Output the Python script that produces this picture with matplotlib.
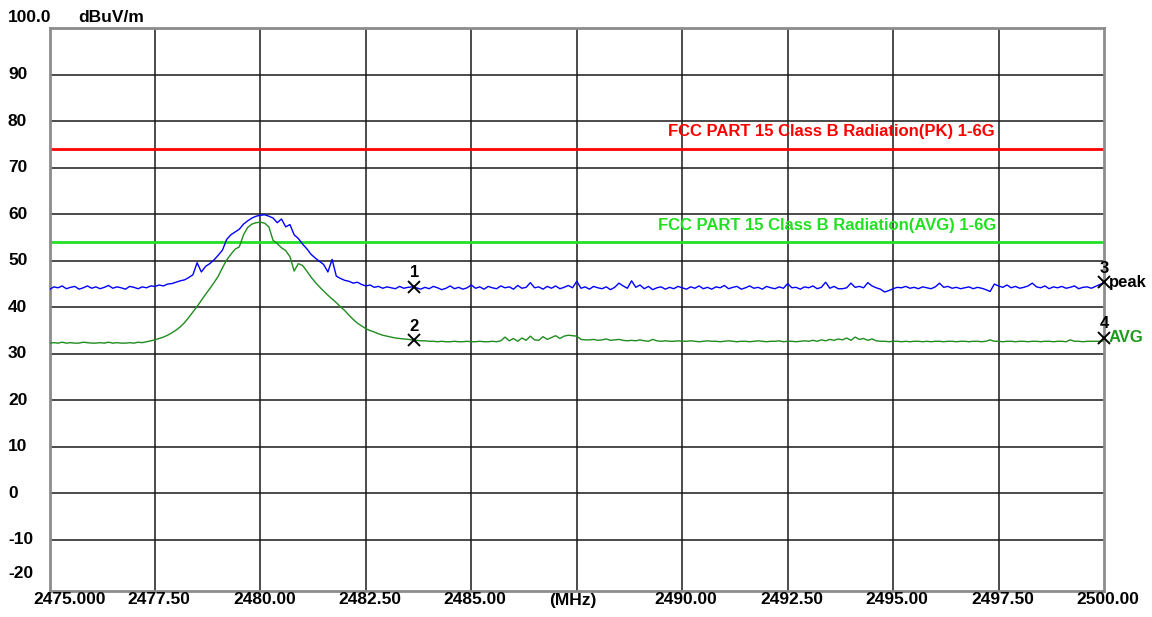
import numpy as np
import matplotlib.pyplot as plt
from matplotlib.transforms import blended_transform_factory

# --- sweep data (dBuV/m), one reading every 0.1 MHz from 2475.0 MHz ---
F_START = 2475.0
F_STEP = 0.1

PEAK_TRACE = [
    43.8, 44.4, 44.2, 44.6, 44.0, 44.3, 44.5, 43.9, 44.2, 44.6,
    44.1, 44.4, 44.0, 44.3, 44.7, 44.1, 44.4, 44.2, 43.9, 44.5,
    44.3, 44.0, 44.4, 44.2, 44.6,
    44.5, 44.8, 44.6, 45.0, 45.1, 45.4,
    45.7, 45.9, 46.4, 47.0, 49.6, 47.6, 48.8, 49.4, 50.2, 51.2,
    52.3, 54.6, 55.6, 56.2, 56.8, 57.9, 58.6, 59.2, 59.6, 59.8,
    59.9, 59.6, 59.2, 58.2, 59.0, 57.3, 57.8, 55.6, 54.8, 53.6,
    52.6, 51.4, 50.6, 49.9, 49.2, 47.6, 50.3, 46.7, 46.2, 45.8,
    45.6, 45.2, 45.4, 44.9, 44.6, 44.8, 44.3, 44.5, 44.1, 44.4,
    44.2, 44.0, 44.5, 44.1, 44.3, 44.4, 44.2,
    43.9, 44.3, 44.0, 44.5, 44.2, 43.8, 44.1, 44.6, 44.0, 44.3,
    43.9, 44.2, 44.8, 44.1, 44.4, 43.9, 44.5, 44.2, 44.0, 44.6,
    44.2, 44.4, 43.9, 44.7, 44.1, 44.3, 45.3, 44.2, 44.4, 43.9,
    44.5, 44.1, 44.6, 44.0, 44.3, 44.7, 44.2, 45.6, 44.1, 44.4,
    43.9, 44.5, 44.2, 44.0, 44.4, 43.8, 44.3, 45.2, 44.6, 44.1,
    45.7, 44.3, 44.8, 44.0, 44.5, 43.8, 44.2, 44.4, 43.9, 44.3,
    44.0, 44.5, 44.2, 43.9, 44.4, 44.1, 44.6, 44.0, 44.3, 43.9,
    44.4, 44.2, 44.7, 44.0, 44.3, 44.5, 43.9, 44.2, 44.6, 44.1,
    44.3, 43.9, 44.5, 44.2, 44.0, 44.4, 44.1, 45.1, 44.2, 44.3,
    43.9, 44.4, 44.2, 44.6, 44.0, 44.3, 45.4, 44.1, 44.5, 44.0,
    44.0, 44.2, 45.2, 44.3, 44.5, 44.2, 45.3, 44.6, 44.2, 43.9,
    43.3, 43.6, 44.0, 44.3, 44.2, 44.5, 44.1, 44.3, 44.0, 44.4,
    44.2, 44.0, 44.4, 45.2, 44.3, 44.5, 44.1, 44.3, 44.0, 44.2,
    44.4, 44.0, 44.3, 44.1, 43.8, 43.4, 45.0, 44.6, 44.3, 44.8,
    44.2, 44.5, 44.1, 44.3, 44.6, 45.2, 44.4, 44.2, 44.6, 44.0,
    44.4, 44.2, 44.5, 44.1, 44.3, 44.6, 44.0, 44.3, 44.4, 44.1,
    44.5, 44.9, 45.3,
]

AVG_TRACE = [
    32.3, 32.4, 32.3, 32.5, 32.3, 32.4, 32.3, 32.3, 32.5, 32.4,
    32.3, 32.3, 32.4, 32.3, 32.5, 32.3, 32.4, 32.3, 32.3, 32.4,
    32.3, 32.5, 32.4, 32.6,
    32.8, 33.0, 33.3, 33.6, 34.0, 34.5, 35.1, 35.8, 36.7, 37.8,
    39.0, 40.2, 41.5, 42.8, 44.0, 45.3, 46.7, 48.5, 50.2, 51.4,
    52.5, 53.0, 55.6, 57.2, 57.9, 58.2, 58.3,
    58.1, 57.3, 54.4, 53.7, 52.8, 52.2, 50.9, 47.8, 49.4, 49.0,
    47.8, 46.5, 45.4, 44.4, 43.5, 42.6, 41.8, 41.0, 40.1, 39.3,
    38.3, 37.4, 36.6, 36.0, 35.4, 35.0, 34.7, 34.3, 34.0, 33.8,
    33.6, 33.4, 33.3, 33.2, 33.1, 33.0, 32.9,
    32.8, 32.8, 32.7, 32.7, 32.6, 32.7, 32.6, 32.6, 32.7, 32.6,
    32.6, 32.7, 32.6, 32.6, 32.7, 32.6, 32.6, 32.7, 32.6, 32.8,
    33.6, 32.8, 33.3, 32.7, 33.4, 32.9, 33.8, 33.0, 32.9, 33.7,
    33.1, 33.5, 33.9, 33.3, 33.8, 34.0, 33.9, 33.8, 33.1, 33.0,
    33.0, 33.1, 32.9, 33.0, 33.2, 32.9, 33.0, 33.1, 32.9, 32.8,
    32.9, 32.8, 33.0, 32.8, 32.7, 33.1, 32.8, 32.7, 32.8, 32.7,
    32.7, 32.8, 32.7, 32.7, 32.8, 32.7, 32.6, 32.7, 32.8, 32.7,
    32.7, 32.6, 32.7, 32.8, 32.7, 32.6, 32.7, 32.7, 32.6, 32.7,
    32.8, 32.7, 32.6, 32.7, 32.7, 32.8, 32.6, 32.7, 32.7, 32.6,
    32.7, 32.8, 32.7, 32.9, 32.7, 33.0, 32.8, 33.1, 32.9, 33.2,
    33.0, 33.4, 32.9, 33.6, 33.1, 33.3, 32.9, 33.2, 32.8, 32.7,
    32.7, 32.6, 32.7, 32.7, 32.6, 32.7, 32.6, 32.7, 32.7, 32.6,
    32.7, 32.6, 32.7, 32.7, 32.6, 32.7, 32.7, 32.6, 32.7, 32.7,
    32.6, 32.7, 32.7, 32.6, 32.7, 33.0, 32.7, 32.7, 32.6, 32.7,
    32.7, 32.6, 32.7, 32.7, 32.6, 32.7, 32.7, 32.6, 32.7, 32.7,
    32.6, 32.7, 32.7, 32.6, 33.0, 32.7, 32.7, 32.6, 32.7, 32.7,
    32.7, 32.7, 32.8,
]

LIMIT_PK = 74.0
LIMIT_AVG = 54.0
LIMIT_PK_TEXT = 'FCC PART 15 Class B Radiation(PK) 1-6G'
LIMIT_AVG_TEXT = 'FCC PART 15 Class B Radiation(AVG) 1-6G'

MARKER_ID = ['1', '2', '3', '4']
MARKER_FREQ = [2483.65, 2483.65, 2500.0, 2500.0]
MARKER_LEVEL = [44.4, 32.9, 45.4, 33.5]

X_TICKS = [2475.0, 2477.5, 2480.0, 2482.5, 2485.0, 2487.5,
           2490.0, 2492.5, 2495.0, 2497.5, 2500.0]
X_LABELS = ['2475.000', '2477.50', '2480.00', '2482.50', '2485.00', '(MHz)',
            '2490.00', '2492.50', '2495.00', '2497.50', '2500.00']
Y_TICKS = [90, 80, 70, 60, 50, 40, 30, 20, 10, 0, -10]

FONT = 'Liberation Sans'
W, H = 1152, 617

fig = plt.figure(figsize=(W / 100, H / 100), dpi=100)
ax = fig.add_axes([49.5 / W, 1 - 591 / H, (1104 - 49.5) / W, (591 - 28.3) / H])
ax.set_xlim(2475, 2500)
ax.set_ylim(-21, 100)

# grid
ax.set_xticks(X_TICKS[1:-1])
ax.set_yticks(Y_TICKS)
ax.tick_params(length=0, labelbottom=False, labelleft=False)
ax.grid(True, color='#1a1a1a', lw=1.1)
ax.set_axisbelow(True)
for sp in ax.spines.values():
    sp.set_color('#8c8c8c')
    sp.set_linewidth(2.0)

freqs = F_START + F_STEP * np.arange(len(PEAK_TRACE))

# limit lines
ax.axhline(LIMIT_PK, color='#ff0000', lw=2.0, zorder=2)
ax.axhline(LIMIT_AVG, color='#22e022', lw=2.0, zorder=2)
ax.text(2497.4, 77.9, LIMIT_PK_TEXT, color='#ff0000', ha='right', va='center',
        fontsize=12, fontweight='bold', family=FONT)
ax.text(2497.45, 57.7, LIMIT_AVG_TEXT, color='#22e022', ha='right', va='center',
        fontsize=12, fontweight='bold', family=FONT)

# traces
ax.plot(freqs, PEAK_TRACE, color='#0000ff', lw=1.0, zorder=3)
ax.plot(np.arange(len(AVG_TRACE)) * F_STEP + F_START, AVG_TRACE,
        color='#1f8c1f', lw=1.0, zorder=3)

# markers
ax.plot(MARKER_FREQ, MARKER_LEVEL, ls='none', marker='x', ms=8, mew=1.4,
        color='black', zorder=5, clip_on=False)
for mid, fx, lv in zip(MARKER_ID, MARKER_FREQ, MARKER_LEVEL):
    ax.annotate(mid, (fx, lv), xytext=(0, 14), textcoords='offset pixels',
                ha='center', va='center', fontsize=12, fontweight='bold',
                family=FONT, color='black', annotation_clip=False)
ax.annotate('peak', (MARKER_FREQ[2], MARKER_LEVEL[2]), xytext=(5, 0),
            textcoords='offset pixels', ha='left', va='center', fontsize=12,
            fontweight='bold', family=FONT, color='black', annotation_clip=False)
ax.annotate('AVG', (MARKER_FREQ[3], MARKER_LEVEL[3]), xytext=(5, 0),
            textcoords='offset pixels', ha='left', va='center', fontsize=12,
            fontweight='bold', family=FONT, color='#1f9a1f', annotation_clip=False)

# x labels
for fx, lab in zip(X_TICKS, X_LABELS):
    dx = 4
    if lab == '2475.000':
        dx = 20
    elif lab == '(MHz)':
        dx = -4
    ax.annotate(lab, (fx, -21), xytext=(dx, -9), textcoords='offset pixels',
                ha='center', va='center', fontsize=12.5, fontweight='bold',
                family=FONT, annotation_clip=False)

# y labels, left aligned at the figure edge
ytr = blended_transform_factory(fig.transFigure, ax.transData)
for v in Y_TICKS:
    fig.text(8 / W, v, str(v), transform=ytr, ha='left', va='center',
             fontsize=12.5, fontweight='bold', family=FONT)
fig.text(8 / W, -17.2, '-20', transform=ytr, ha='left', va='center',
         fontsize=12.5, fontweight='bold', family=FONT)
fig.text(8 / W, 1 - 18 / H, '100.0', ha='left', va='center',
         fontsize=12.5, fontweight='bold', family=FONT)
fig.text(78 / W, 1 - 18 / H, 'dBuV/m', ha='left', va='center',
         fontsize=12.5, fontweight='bold', family=FONT)

fig.savefig('out.png', dpi=100)
